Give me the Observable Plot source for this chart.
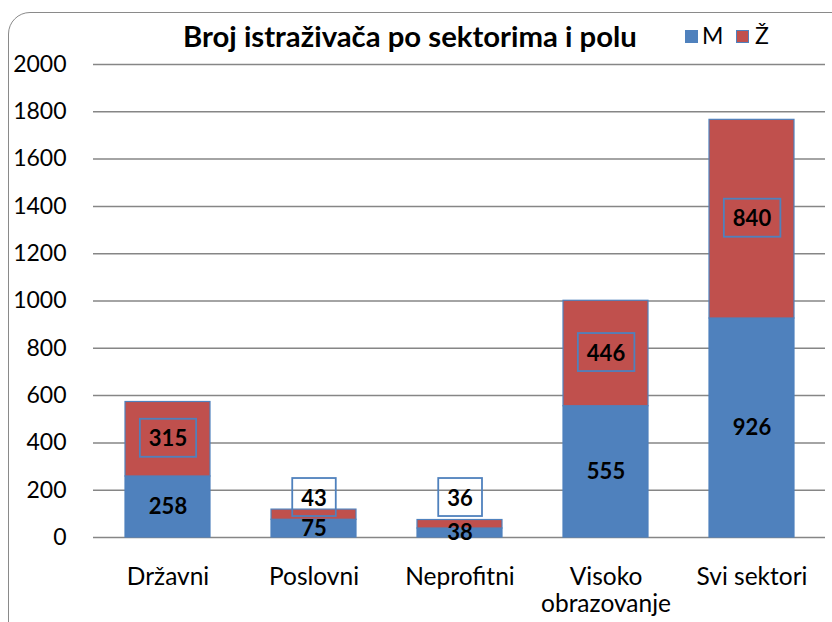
<!DOCTYPE html>
<html>
<head>
<meta charset="utf-8">
<script src="https://cdn.jsdelivr.net/npm/d3@7"></script>
<script src="https://cdn.jsdelivr.net/npm/@observablehq/plot@0.6"></script>
<style>
  html, body { margin: 0; padding: 0; background: #fff; }
  #wrap { position: relative; width: 832px; height: 622px; overflow: hidden; font-family: Lato, "Open Sans", sans-serif; }
  #border { position: absolute; left: 8px; top: 12px; width: 850px; height: 650px; border: 1.5px solid #8a8a8a; border-radius: 22px; box-sizing: border-box; }
  #title { position: absolute; left: 183px; top: 21px; font-size: 29.3px; font-weight: 700; line-height: 30px; color: #000; white-space: nowrap; }
  .sw { position: absolute; width: 13px; height: 13px; top: 30px; }
  .lt { position: absolute; top: 22px; font-size: 23px; line-height: 26px; color: #000; }
  #plot { position: absolute; left: 0; top: 49px; }
</style>
</head>
<body>
<div id="wrap">
  <div id="border"></div>
  <div id="title">Broj istraživača po sektorima i polu</div>
  <div id="legend"></div>
  <div id="plot"></div>
</div>
<script>
// ---- data ----
const categories = ["Državni", "Poslovni", "Neprofitni", "Visoko obrazovanje", "Svi sektori"];
const categoryLabels = ["Državni", "Poslovni", "Neprofitni", "Visoko\nobrazovanje", "Svi sektori"];
const seriesNames = ["M", "Ž"];
const seriesColors = ["#4F81BD", "#C0504D"];
const maleValues = [258, 75, 38, 555, 926];
const femaleValues = [315, 43, 36, 446, 840];
const yTicks = [0, 200, 400, 600, 800, 1000, 1200, 1400, 1600, 1800, 2000];

// ---- legend ----
const legend = document.getElementById("legend");
const legendSwatchLeft = [685, 736];
const legendTextLeft = [702, 755];
seriesNames.forEach((s, i) => {
  const sw = document.createElement("span");
  sw.className = "sw";
  sw.style.left = legendSwatchLeft[i] + "px";
  sw.style.background = seriesColors[i];
  sw.style.boxShadow = "inset 0 0 0 1px #4F81BD";
  legend.appendChild(sw);
  const t = document.createElement("span");
  t.className = "lt";
  t.style.left = legendTextLeft[i] + "px";
  t.textContent = s;
  legend.appendChild(t);
});

// ---- table ----
const rows = [];
categories.forEach((c, i) => {
  rows.push({category: c, series: "M", value: maleValues[i]});
  rows.push({category: c, series: "Ž", value: femaleValues[i]});
});
const mLabels = categories.map((c, i) => ({category: c, value: maleValues[i], y: maleValues[i] / 2}));
const zLabels = categories.map((c, i) => ({category: c, value: femaleValues[i], y: Math.max(maleValues[i] + femaleValues[i] / 2, 165)}));
const labelMap = new Map(categories.map((c, i) => [c, categoryLabels[i]]));

const chart = Plot.plot({
  width: 832,
  height: 573,
  marginTop: 15,
  marginBottom: 85,
  marginLeft: 93,
  marginRight: 7,
  style: {fontFamily: "Lato, 'Open Sans', sans-serif", fontSize: "23px", color: "#000", background: "transparent"},
  x: {domain: categories, paddingInner: 0.42, paddingOuter: 0.21, label: null},
  y: {domain: [0, 2000], label: null},
  color: {domain: seriesNames, range: seriesColors},
  marks: [
    Plot.gridY(yTicks, {stroke: "#868686", strokeOpacity: 1, strokeWidth: 1.5}),
    Plot.barY(rows, {x: "category", y: "value", fill: "series", stroke: "#4F81BD", strokeWidth: 1.2, inset: 0}),
    Plot.axisY(yTicks, {tickSize: 0, tickPadding: 27, fontSize: 23, fill: "#000", tickFormat: d => String(d)}),
    Plot.axisX({tickSize: 0, tickPadding: 28, fontSize: 24.5, fill: "#000", lineHeight: 1.1, tickFormat: d => labelMap.get(d)}),
    Plot.text(mLabels, {x: "category", y: "y", text: d => String(d.value), fontWeight: "bold", fontSize: 22, fill: "#000"}),
    Plot.text(zLabels, {x: "category", y: "y", text: d => String(d.value), fontWeight: "bold", fontSize: 22, fill: "#000"})
  ]
});
document.getElementById("plot").appendChild(chart);

// boxes around the Ž labels (the second text mark group)
const NS = "http://www.w3.org/2000/svg";
const textGroups = chart.querySelectorAll('g[aria-label="text"]');
const zGroup = textGroups[textGroups.length - 1];
if (zGroup) {
  zGroup.querySelectorAll("text").forEach(t => {
    const b = t.getBBox();
    const r = document.createElementNS(NS, "rect");
    const w = b.width + 18, h = 38;
    r.setAttribute("x", b.x + b.width / 2 - w / 2);
    r.setAttribute("y", b.y + b.height / 2 - h / 2);
    r.setAttribute("width", w);
    r.setAttribute("height", h);
    r.setAttribute("fill", "none");
    r.setAttribute("stroke", "#4F81BD");
    r.setAttribute("stroke-width", 1.8);
    const tr = t.getAttribute("transform");
    if (tr) r.setAttribute("transform", tr);
    t.parentNode.insertBefore(r, t);
  });
}
</script>
</body>
</html>
